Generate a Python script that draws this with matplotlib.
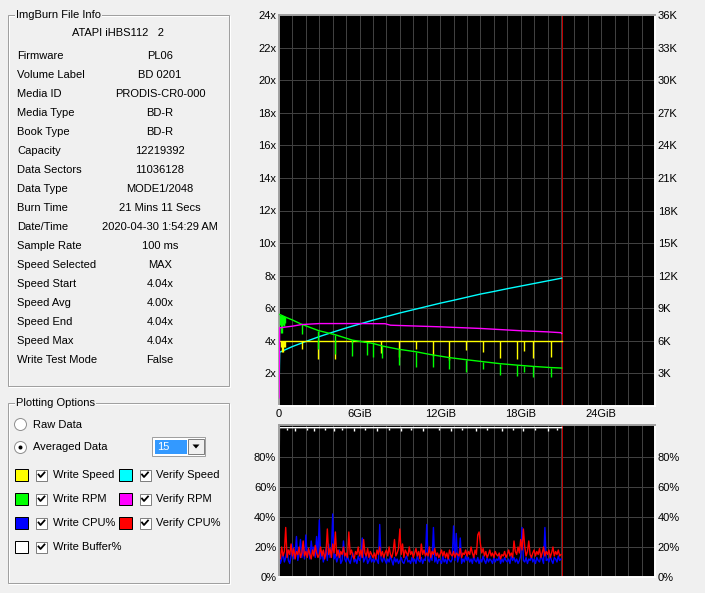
import numpy as np
import matplotlib.pyplot as plt
from matplotlib.patches import Rectangle, Circle, Polygon

plt.rcParams['font.family'] = ['Liberation Sans', 'DejaVu Sans']
plt.rcParams['font.size'] = 8

# ---- file info panel ----
drive_name = 'ATAPI iHBS112   2'
info_labels = ['Firmware', 'Volume Label', 'Media ID', 'Media Type', 'Book Type',
               'Capacity', 'Data Sectors', 'Data Type', 'Burn Time', 'Date/Time',
               'Sample Rate', 'Speed Selected', 'Speed Start', 'Speed Avg',
               'Speed End', 'Speed Max', 'Write Test Mode']
info_values = ['PL06', 'BD 0201', 'PRODIS-CR0-000', 'BD-R', 'BD-R',
               '12219392', '11036128', 'MODE1/2048', '21 Mins 11 Secs',
               '2020-04-30 1:54:29 AM', '100 ms', 'MAX', '4.04x', '4.00x',
               '4.04x', '4.04x', 'False']

legend_names = [['Write Speed', 'Verify Speed'], ['Write RPM', 'Verify RPM'],
                ['Write CPU%', 'Verify CPU%'], ['Write Buffer%', None]]
legend_colors = [['#ffff00', '#00ffff'], ['#00ff00', '#ff00ff'],
                 ['#0000ff', '#ff0000'], ['#ffffff', None]]

# ---- upper chart data (GiB written) ----
end_gib = 21.05

write_speed_gib = [0.05, 21.05]
write_speed = [4.0, 4.0]
write_dip_gib = [0.15, 0.2, 0.25, 0.3, 0.35, 0.4, 0.45, 1.69, 2.94, 4.2, 5.47, 6.3,
                 7.6, 8.93, 10.2, 11.47, 12.69, 13.96, 15.17, 16.44, 17.71, 18.23,
                 18.93, 20.22]
write_dip_low = [3.6, 3.3, 3.6, 3.3, 3.6, 3.7, 3.6, 3.5, 2.86, 2.86, 3.85, 3.9,
                 3.27, 3.03, 3.47, 3.08, 2.83, 3.45, 3.33, 2.92, 2.9, 3.35,
                 2.95, 3.0]

verify_speed_gib = [0.0, 0.05, 1, 2, 3, 4, 5, 6, 7, 8, 9, 10, 11, 12, 13, 14, 15,
                    16, 17, 18, 19, 20, 21, 21.05]
verify_speed = [0.6, 3.3, 3.65, 3.96, 4.26, 4.53, 4.79, 5.03, 5.27, 5.49, 5.71,
                5.91, 6.11, 6.31, 6.49, 6.68, 6.87, 7.03, 7.2, 7.36, 7.52, 7.68,
                7.84, 7.85]

write_rpm_gib = [0.05, 0.5, 1.0, 1.57, 2.0, 2.94, 4.2, 5.47, 7.0, 7.7, 8.93, 10.2,
                 11.27, 12.69, 13.96, 15.0, 16.44, 17.71, 18.93, 20.22, 21.05]
write_rpm = [8430, 8175, 7920, 7590, 7380, 6945, 6555, 6060, 5760, 5520, 5220,
             4995, 4740, 4455, 4260, 4110, 3900, 3765, 3645, 3540, 3495]
rpm_dip_gib = [0.1, 0.15, 0.2, 0.25, 0.3, 0.35, 0.4, 0.45, 1.69, 2.94, 4.2, 5.47,
               6.53, 7.0, 7.7, 8.93, 10.2, 11.47, 12.69, 13.96, 15.17, 16.44,
               17.71, 18.23, 18.93, 20.22]
rpm_dip_low = [7425, 6750, 7425, 6750, 7500, 7350, 7500, 7650, 6585, 5205, 4770,
               4620, 4650, 4500, 4395, 3765, 3600, 3555, 3405, 3150, 3390, 2865,
               2730, 3090, 2640, 2640]

verify_rpm_gib = [0.0, 0.05, 1.0, 1.69, 3.0, 6.0, 7.9, 8.3, 10.5, 12.0, 15.0,
                  18.0, 20.0, 21.0, 21.05]
verify_rpm = [750, 7200, 7350, 7500, 7590, 7590, 7575, 7440, 7350, 7290, 7140,
              6930, 6825, 6750, 6675]

# ---- lower chart data (one sample per 0.1 GiB) ----
cpu_gib = np.arange(211) * 0.1
write_cpu = [14, 9, 12, 16, 10, 13, 18, 11, 9, 14,
             22, 12, 15, 27, 11, 16, 25, 13, 20, 12,
             28, 14, 18, 12, 24, 16, 20, 13, 27, 15,
             38, 12, 17, 10, 14, 19, 11, 22, 13, 16,
             42, 12, 15, 10, 13, 18, 9, 11, 24, 12,
             10, 14, 11, 9, 13, 16, 10, 12, 9, 14,
             11, 13, 26, 10, 12, 15, 9, 11, 14, 10,
             12, 10, 13, 11, 9, 35, 12, 10, 14, 11,
             9, 12, 10, 14, 11, 8, 13, 10, 12, 9,
             11, 13, 10, 9, 12, 14, 10, 11, 9, 13,
             10, 12, 9, 14, 11, 10, 13, 9, 12, 11,
             35, 12, 10, 14, 11, 33, 10, 13, 9, 12,
             11, 9, 14, 10, 12, 9, 13, 11, 10, 12,
             34, 11, 29, 10, 13, 26, 9, 12, 10, 14,
             11, 13, 10, 12, 9, 14, 11, 10, 13, 9,
             12, 10, 14, 11, 9, 13, 10, 12, 11, 9,
             13, 10, 12, 11, 14, 9, 12, 10, 13, 11,
             10, 12, 9, 14, 11, 13, 10, 12, 9, 11,
             14, 33, 11, 10, 13, 9, 12, 11, 14, 10,
             12, 9, 13, 11, 10, 14, 12, 9, 33, 11,
             12, 10, 14, 11, 9, 13, 12, 10, 14, 11,
             12]
verify_cpu = [16, 12, 20, 14, 17, 33, 13, 18, 15, 22,
              14, 19, 12, 17, 15, 20, 13, 16, 24, 14,
              17, 13, 19, 15, 12, 18, 14, 21, 16, 13,
              15, 20, 14, 18, 12, 16, 32, 15, 19, 13,
              22, 16, 30, 14, 18, 13, 17, 15, 20, 14,
              16, 13, 30, 15, 18, 14, 12, 17, 15, 20,
              14, 18, 13, 25, 16, 14, 19, 13, 17, 15,
              13, 16, 12, 18, 15, 20, 14, 17, 13, 16,
              18, 14, 20, 15, 13, 17, 25, 14, 16, 19,
              32, 15, 22, 13, 18, 16, 14, 20, 15, 17,
              13, 16, 19, 14, 17, 12, 22, 15, 18, 14,
              16, 14, 20, 13, 17, 15, 19, 14, 16, 13,
              15, 18, 14, 17, 13, 16, 12, 18, 15, 14,
              17, 13, 16, 15, 14, 19, 13, 16, 15, 18,
              14, 17, 15, 20, 16, 13, 18, 15, 28, 30,
              22, 16, 19, 14, 17, 13, 15, 18, 14, 16,
              13, 17, 15, 14, 16, 12, 15, 14, 17, 13,
              15, 18, 14, 16, 13, 24, 17, 15, 20, 16,
              25, 18, 32, 20, 14, 17, 24, 15, 13, 16,
              18, 14, 17, 15, 19, 13, 16, 20, 14, 17,
              15, 18, 13, 16, 20, 14, 17, 15, 18, 14,
              15]
buffer_gib = [0.0, 0.03, 21.05]
write_buffer = [45, 99.5, 99.5]
buffer_dip_gib = [0.6, 1.2, 2.1, 2.6, 3.4, 4.1, 4.7, 5.6, 6.4, 7.3, 8.2, 9.1, 9.8,
                  10.7, 11.9, 12.8, 13.6, 14.7, 15.5, 16.6, 17.4, 18.2, 19.1,
                  20.0, 20.7]
buffer_dip_low = [98, 97.5, 98, 97, 98, 97.5, 98, 97, 98, 97.5, 98, 97, 98, 97.5,
                  98, 97, 98, 97.5, 98, 97, 98, 97.5, 98, 97, 98]

speed_ticks = list(range(0, 25, 2))
rpm_ticks = list(range(0, 36001, 3000))
pct_ticks = [0, 20, 40, 60, 80]
gib_labels = {0: '0', 6: '6GiB', 12: '12GiB', 18: '18GiB', 24: '24GiB'}

BG = '#f0f0f0'
PX = 0.72

fig = plt.figure(figsize=(7.05, 5.93), dpi=100)
fig.patch.set_facecolor(BG)

# ---- the dialog controls, in pixel coordinates ----
ui = fig.add_axes([0, 0, 1, 1])
ui.set_xlim(0, 705)
ui.set_ylim(593, 0)
ui.axis('off')


def group_box(x0, y0, x1, y1, title):
    ui.add_patch(Rectangle((x0 + 1, y0 + 1), x1 - x0, y1 - y0, fill=False, ec='white', lw=PX))
    ui.add_patch(Rectangle((x0, y0), x1 - x0, y1 - y0, fill=False, ec='#a0a0a0', lw=PX))
    ui.text(x0 + 8, y0, title, va='center', ha='left',
            bbox=dict(fc=BG, ec='none', pad=1))


def checkbox(x, y):
    ui.add_patch(Rectangle((x, y), 11, 11, fc='white', ec='#808080', lw=PX))
    ui.plot([x + 2.5, x + 4.5, x + 8.5], [y + 5, y + 7.5, y + 3], color='black', lw=1.3)


group_box(8, 15, 229, 386, 'ImgBurn File Info')
ui.text(118, 33, drive_name, ha='center', va='center')
for i, (lab, val) in enumerate(zip(info_labels, info_values)):
    y = 56 + 19 * i
    ui.text(17, y, lab, ha='left', va='center')
    ui.text(160, y, val, ha='center', va='center')

group_box(8, 403, 229, 583, 'Plotting Options')
for y, lab, sel in [(424.5, 'Raw Data', False), (447.5, 'Averaged Data', True)]:
    ui.add_patch(Circle((20.5, y), 6, fc='white', ec='#909090', lw=PX))
    if sel:
        ui.add_patch(Circle((20.5, y), 2, fc='black', ec='none'))
    ui.text(33, y, lab, ha='left', va='center')

ui.add_patch(Rectangle((152, 437), 53, 19, fc='white', ec='#a0a0a0', lw=PX))
ui.add_patch(Rectangle((155, 439.5), 32, 14, fc='#3399ff', ec='none'))
ui.text(157, 446.5, '15', color='white', ha='left', va='center')
ui.add_patch(Rectangle((188, 439), 16, 15, fc=BG, ec='#808080', lw=PX))
ui.add_patch(Polygon([(192.5, 444.5), (199.5, 444.5), (196, 448.5)], fc='black', ec='none'))

for r, (names, colors) in enumerate(zip(legend_names, legend_colors)):
    y = 469 + 24 * r
    for cx, name, col in zip([15, 118.5], names, colors):
        if name is None:
            continue
        ui.add_patch(Rectangle((cx, y), 13, 12, fc=col, ec='black', lw=PX))
        checkbox(cx + 21, y + 0.5)
        ui.text(cx + 38, y + 6, name, ha='left', va='center')


# ---- charts ----
def style_chart(ax):
    ax.set_facecolor('black')
    ax.set_xlim(0, 28)
    ax.set_xticks(range(0, 29))
    ax.set_axisbelow(True)
    ax.grid(True, color='#404040', lw=PX)
    ax.tick_params(length=0, pad=2)
    for s in ('top', 'left'):
        ax.spines[s].set_color('#a0a0a0')
    for s in ('bottom', 'right'):
        ax.spines[s].set_color('white')
    for s in ax.spines.values():
        s.set_linewidth(1.4)


def right_axis(ax, lim, ticks, labels):
    tw = ax.twinx()
    tw.set_ylim(*lim)
    tw.set_yticks(ticks)
    tw.set_yticklabels(labels)
    tw.tick_params(length=0, pad=2)
    for s in tw.spines.values():
        s.set_visible(False)
    return tw


ax = fig.add_axes([279 / 705, 1 - 406 / 593, 376 / 705, 391 / 593])
style_chart(ax)
ax.set_ylim(0, 24)
ax.set_yticks(speed_ticks)
ax.set_yticklabels([''] + ['%dx' % v for v in speed_ticks[1:]])
ax.set_xticklabels([gib_labels.get(v, '') for v in range(0, 29)])
ax.axvline(end_gib, color='#c00000', lw=PX)

ax.plot(verify_speed_gib, verify_speed, color='#00ffff', lw=1.0)
ax.plot(write_speed_gib, write_speed, color='#ffff00', lw=1.0)
ax.vlines(write_dip_gib, write_dip_low, 4.0, color='#ffff00', lw=1.0)

rpm = right_axis(ax, (0, 36000), rpm_ticks[1:], ['%dK' % (v // 1000) for v in rpm_ticks[1:]])
rpm.plot(write_rpm_gib, write_rpm, color='#00ff00', lw=1.0)
rpm_top = np.interp(rpm_dip_gib, write_rpm_gib, write_rpm)
rpm.vlines(rpm_dip_gib, rpm_dip_low, rpm_top, color='#00ff00', lw=1.0)
rpm.plot(verify_rpm_gib, verify_rpm, color='#ff00ff', lw=1.0)

bx = fig.add_axes([279 / 705, 1 - 577 / 593, 376 / 705, 152.5 / 593])
style_chart(bx)
bx.set_ylim(0, 101.6)
bx.set_yticks(pct_ticks)
bx.set_yticklabels(['%d%%' % v for v in pct_ticks])
bx.set_xticklabels([])
bx.axvline(end_gib, color='#c00000', lw=PX)
bx.plot(cpu_gib, write_cpu, color='#0000ff', lw=1.0)
bx.plot(cpu_gib, verify_cpu, color='#ff0000', lw=1.0)
bx.plot(buffer_gib, write_buffer, color='white', lw=1.0)
bx.vlines(buffer_dip_gib, buffer_dip_low, 99.5, color='white', lw=1.0)
right_axis(bx, (0, 101.6), pct_ticks, ['%d%%' % v for v in pct_ticks])

fig.savefig('out.png', dpi=100, facecolor=BG)
